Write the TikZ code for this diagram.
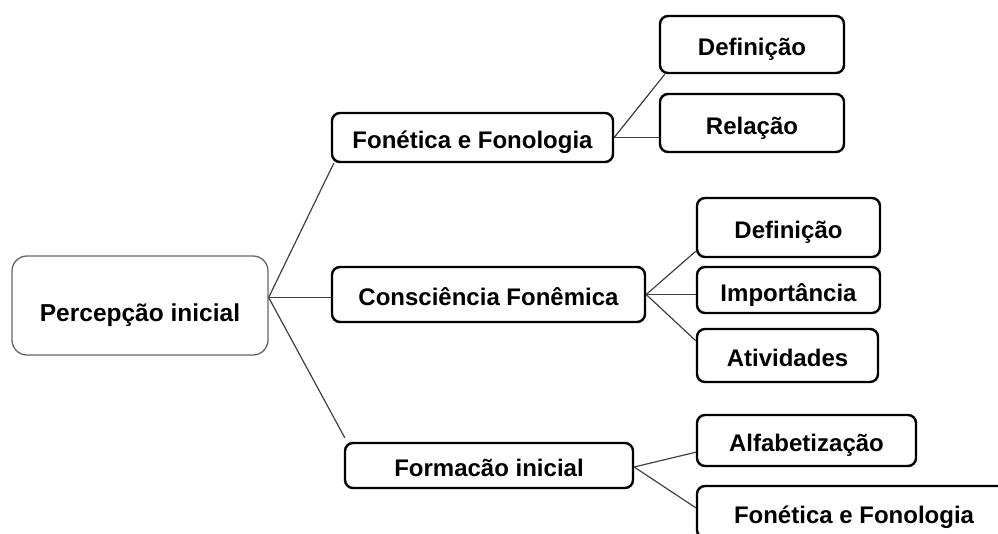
\documentclass[tikz,border=0pt]{standalone}
\usepackage{fontspec}
\setmainfont{Liberation Sans}
\begin{document}
\begin{tikzpicture}[x=1pt,y=-1pt,
  rootbox/.style={draw=black!60,line width=1.3pt,rounded corners=15pt,fill=white,
    minimum width=#1,inner sep=0pt,text height=32pt,text depth=0pt,
    font=\fontsize{24.5}{28}\selectfont\bfseries},
  topicbox/.style={draw=black,line width=2.4pt,rounded corners=8pt,fill=white,
    inner sep=0pt,text height=22pt,text depth=0pt,font=\fontsize{24}{28}\selectfont\bfseries},
  link/.style={draw=black!75,line width=1.2pt}]
\useasboundingbox (0,0) rectangle (998,533);
\clip (0,0) rectangle (998,533);
% nodes
\node[rootbox=256pt,minimum height=99pt] (root) at (140,305.5) {Percepção inicial};
\node[topicbox,minimum width=281pt,minimum height=49pt] (fon) at (472.5,137.5) {Fonética e Fonologia};
\node[topicbox,minimum width=313pt,minimum height=55pt] (cons) at (488.5,294.5) {Consciência Fonêmica};
\node[topicbox,minimum width=288pt,minimum height=45pt] (form) at (489,465.5) {Formacão inicial};
\node[topicbox,minimum width=184pt,minimum height=57pt] (def1) at (752,44.5) {Definição};
\node[topicbox,minimum width=184pt,minimum height=58pt] (rel) at (752,123) {Relação};
\node[topicbox,minimum width=183pt,minimum height=59pt] (def2) at (788.5,227.5) {Definição};
\node[topicbox,minimum width=183pt,minimum height=46pt] (imp) at (788.5,290) {Importância};
\node[topicbox,minimum width=181pt,minimum height=53pt] (ativ) at (787.5,355.5) {Atividades};
\node[topicbox,minimum width=219pt,minimum height=51pt] (alf) at (806.5,440.5) {Alfabetização};
\node[topicbox,minimum width=314pt,minimum height=52pt] (fon2) at (854,512) {Fonética e Fonologia};
% junction points
\coordinate (rj) at ([yshift=8pt]root.east);
\coordinate (fj) at (fon.east);
\coordinate (cj) at (cons.east);
\coordinate (mj) at ([yshift=-1.5pt]form.east);
% connectors
\draw[link] (rj) -- ([xshift=3pt]fon.south west);
\draw[link] (rj) -- (rj -| cons.west);
\draw[link] (rj) -- ([xshift=1pt,yshift=4pt]form.north west);
\draw[link] (fj) -- ([xshift=6pt]def1.south west);
\draw[link] (fj) -- (fj -| rel.west);
\draw[link] (cj) -- ([yshift=7pt]def2.south west);
\draw[link] (cj) -- (cj -| imp.west);
\draw[link] (cj) -- ([yshift=-13pt]ativ.north west);
\draw[link] (mj) -- ([yshift=15pt]alf.south west);
\draw[link] (mj) -- ([yshift=-23pt]fon2.north west);
\end{tikzpicture}
\end{document}
